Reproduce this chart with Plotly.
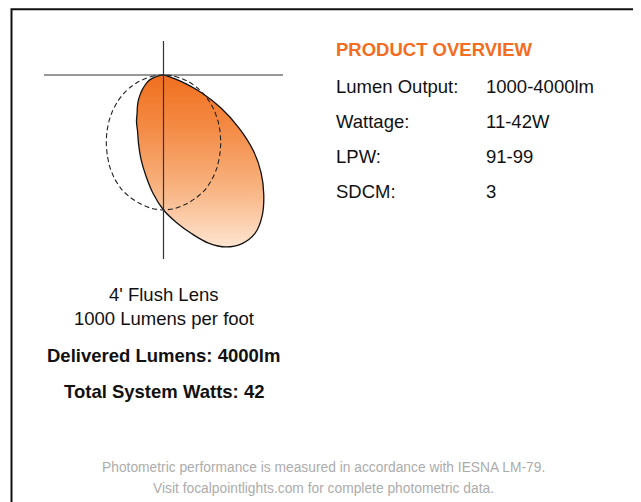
import numpy as np
import plotly.graph_objects as go

# ---- data (polar intensity distribution, angle from nadir, + = right) ----
angles_deg = [-90, -85, -80, -75, -70, -65, -60, -55, -50, -45, -40, -35, -30, -25, -20, -15, -10, -5,
              0, 5, 10, 15, 20, 25, 30, 35, 40, 45, 50, 55, 60, 65, 70, 75, 80, 85, 90]
lobe_values = [0, 2, 5, 10, 15, 18.5, 22, 26, 30.5, 35.5, 40.5, 46, 54, 61.5, 73, 87, 102, 119,
               135, 148, 161, 174, 183, 186, 183, 172, 156, 138, 117, 92, 67, 42, 18, 5, 0, 0, 0]
reference_values = [0, 9, 17, 26, 35, 44, 53, 62, 71, 80, 89, 98, 107, 115, 122, 127, 131, 134,
                    135, 134, 131, 127, 122, 115, 107, 98, 89, 80, 71, 62, 53, 44, 35, 26, 17, 9, 0]

overview_labels = ["Lumen Output:", "Wattage:", "LPW:", "SDCM:"]
overview_values = ["1000-4000lm", "11-42W", "91-99", "3"]

caption_lines = ["4' Flush Lens", "1000 Lumens per foot"]
bold_lines = ["Delivered Lumens: 4000lm", "Total System Watts: 42"]
footer_lines = ["Photometric performance is measured in accordance with IESNA LM-79.",
                "Visit focalpointlights.com for complete photometric data."]

FONT = "Liberation Sans, Arial, Helvetica, sans-serif"

def to_xy(angles, values):
    th = np.radians(np.asarray(angles, dtype=float))
    r = np.asarray(values, dtype=float)
    keep = r > 0
    x = r[keep] * np.sin(th[keep])
    y = -r[keep] * np.cos(th[keep])
    # close the curve once through the origin
    return np.concatenate([[0.0], x, [0.0]]), np.concatenate([[0.0], y, [0.0]])

lx, ly = to_xy(angles_deg, lobe_values)
rx, ry = to_xy(angles_deg, reference_values)

fig = go.Figure()
fig.add_trace(go.Scatter(
    x=lx, y=ly, mode="lines",
    line=dict(color="#111111", width=1.3, shape="spline", smoothing=1.0),
    fill="toself",
    fillgradient=dict(type="vertical",
                      colorscale=[[0, "#fee4d0"], [0.35, "#f8b27f"], [0.7, "#f48a44"], [1, "#f06f1e"]]),
    hoverinfo="skip", showlegend=False))
fig.add_trace(go.Scatter(
    x=rx, y=ry, mode="lines",
    line=dict(color="#222222", width=1.1, dash="5px,3px", shape="spline", smoothing=0.6),
    hoverinfo="skip", showlegend=False))

# page coordinates (1 data unit == 1 px), origin at the diagram centre;
# the figure itself starts at page (8, 8) because of the default body margin
OX, OY = 163.5, 75.0
PAGE_OFF = 8
def px(x):
    return x - OX
def py(y):
    return OY - y

shapes = [
    dict(type="line", xref="x", yref="y", x0=px(44), x1=px(283), y0=0, y1=0,
         line=dict(color="#333333", width=1.2), layer="above"),
    dict(type="line", xref="x", yref="y", x0=0, x1=0, y0=py(41), y1=py(259),
         line=dict(color="#333333", width=1.2), layer="above"),
    dict(type="rect", xref="x", yref="y", x0=px(11.5), x1=px(637), y0=py(9.2), y1=py(530),
         line=dict(color="#111111", width=2), layer="above"),
]

ann = []
ann.append(dict(x=px(334), y=py(49.5), text="<b>PRODUCT OVERVIEW</b>", showarrow=False,
                xanchor="left", yanchor="middle", font=dict(family=FONT, size=18.5, color="#f26c22")))
row_y = [86.5, 121.5, 156.5, 191.5]
for lab, val, yy in zip(overview_labels, overview_values, row_y):
    ann.append(dict(x=px(334), y=py(yy), text=lab, showarrow=False, xanchor="left", yanchor="middle",
                    font=dict(family=FONT, size=18.5, color="#111111")))
    ann.append(dict(x=px(483.5), y=py(yy), text=val, showarrow=False, xanchor="left", yanchor="middle",
                    font=dict(family=FONT, size=18.5, color="#111111")))
for txt, yy in zip(caption_lines, [294.7, 318.5]):
    ann.append(dict(x=0, y=py(yy), text=txt, showarrow=False, xanchor="center", yanchor="middle",
                    font=dict(family=FONT, size=18.5, color="#111111")))
for txt, yy in zip(bold_lines, [355, 391.5]):
    ann.append(dict(x=0, y=py(yy), text="<b>" + txt + "</b>", showarrow=False, xanchor="center",
                    yanchor="middle", font=dict(family=FONT, size=18.5, color="#111111")))
for txt, yy in zip(footer_lines, [467, 488]):
    ann.append(dict(x=px(323.5), y=py(yy), text=txt, showarrow=False, xanchor="center", yanchor="middle",
                    font=dict(family=FONT, size=13.8, color="#acacac")))

W, H = 641 - PAGE_OFF, 502 - PAGE_OFF
fig.update_layout(
    width=W, height=H, autosize=False,
    margin=dict(l=0, r=0, t=0, b=0),
    paper_bgcolor="white", plot_bgcolor="white",
    xaxis=dict(range=[px(PAGE_OFF), px(641)], visible=False, fixedrange=True),
    yaxis=dict(range=[py(502), py(PAGE_OFF)], visible=False, fixedrange=True),
    shapes=shapes, annotations=ann, showlegend=False,
)
fig.write_html("out.html")
